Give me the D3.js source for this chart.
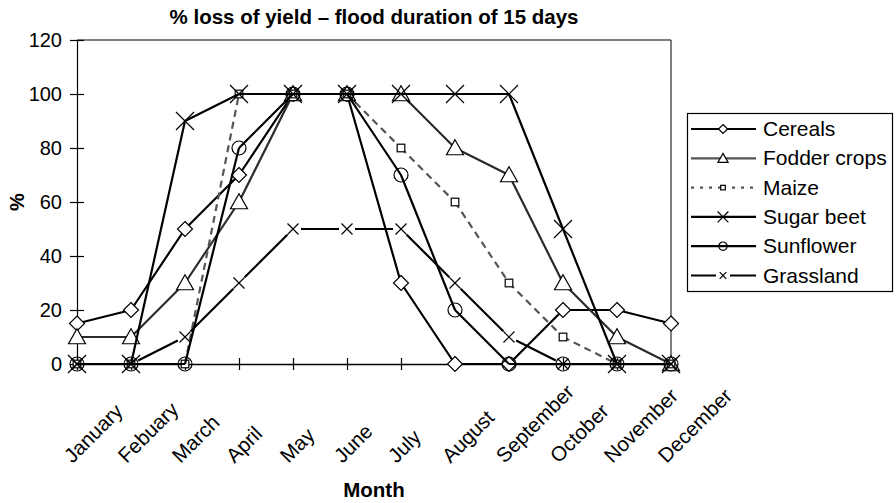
<!DOCTYPE html>
<html>
<head>
<meta charset="utf-8">
<script src="https://cdn.jsdelivr.net/npm/d3@7"></script>
<style>
  html, body { margin: 0; padding: 0; background: #fff; }
  svg { display: block; font-family: "Liberation Sans", Arial, Helvetica, sans-serif; }
</style>
</head>
<body>
<svg id="chart" width="896" height="503"></svg>
<script>
// Months along the x axis (spelling kept as published)
const months = ["January", "Febuary", "March", "April", "May", "June", "July",
                "August", "September", "October", "November", "December"];

// % loss of yield per month, flood duration of 15 days
const cereals    = [15, 20, 50, 70, 100, 100, 30, 0, 0, 20, 20, 15];
const fodder     = [10, 10, 30, 60, 100, 100, 100, 80, 70, 30, 10, 0];
const maize      = [0, 0, 0, 100, 100, 100, 80, 60, 30, 10, 0, 0];
const sugarBeet  = [0, 0, 90, 100, 100, 100, 100, 100, 100, 50, 0, 0];
const sunflower  = [0, 0, 0, 80, 100, 100, 70, 20, 0, 0, 0, 0];
const grassland  = [0, 0, 10, 30, 50, 50, 50, 30, 10, 0, 0, 0];

const seriesNames = ["Cereals", "Fodder crops", "Maize", "Sugar beet", "Sunflower", "Grassland"];
const yTicks = [0, 20, 40, 60, 80, 100, 120];

const series = [
  { name: seriesNames[0], values: cereals,   color: "#000", dash: null,  marker: "diamond",  gap: 0 },
  { name: seriesNames[1], values: fodder,    color: "#2b2b2b", dash: null, marker: "triangle", gap: 0 },
  { name: seriesNames[2], values: maize,     color: "#555", dash: "7,5", marker: "square",   gap: 0 },
  { name: seriesNames[3], values: sugarBeet, color: "#000", dash: null,  marker: "bigx",     gap: 0 },
  { name: seriesNames[4], values: sunflower, color: "#000", dash: null,  marker: "circle",   gap: 0 },
  { name: seriesNames[5], values: grassland, color: "#000", dash: null,  marker: "smallx",   gap: 8 }
];

const svg = d3.select("#chart");
const plotL = 77, plotR = 671, plotT = 40, plotB = 364;

const x = d3.scalePoint().domain(months).range([plotL, plotR]);
const y = d3.scaleLinear().domain([0, 120]).range([plotB, plotT]);

// Title
svg.append("text")
  .attr("x", (plotL + plotR) / 2).attr("y", 24)
  .attr("text-anchor", "middle")
  .attr("font-weight", "bold").attr("font-size", 20.5)
  .text("% loss of yield \u2013 flood duration of 15 days");

// Plot frame (top and right edges)
svg.append("path")
  .attr("d", `M${plotL},${plotT}H${plotR}V${plotB}`)
  .attr("fill", "none").attr("stroke", "#000").attr("stroke-width", 1);

// Y axis with ticks crossing the line
const yAxis = svg.append("g").attr("transform", `translate(${plotL},0)`)
  .call(d3.axisLeft(y).tickValues(yTicks).tickSize(7).tickPadding(8));
yAxis.select(".domain").attr("stroke", "#000").attr("stroke-width", 1.2);
yAxis.selectAll(".tick line").attr("x2", 7).attr("x1", -7).attr("stroke-width", 1.2);
yAxis.selectAll(".tick text")
  .attr("font-size", 20).attr("font-family", "Liberation Sans, Arial, sans-serif").attr("fill", "#000");

// X axis at zero with crossing ticks and slanted month labels
const xAxis = svg.append("g").attr("transform", `translate(0,${plotB})`)
  .call(d3.axisBottom(x).tickSize(6).tickSizeOuter(0));
xAxis.select(".domain").attr("stroke", "#000").attr("stroke-width", 1.5);
xAxis.selectAll(".tick line").attr("y1", -6).attr("y2", 6).attr("stroke-width", 1.2);
xAxis.selectAll(".tick text")
  .attr("font-size", 20.5).attr("font-family", "Liberation Sans, Arial, sans-serif").attr("fill", "#000")
  .attr("text-anchor", "start")
  .attr("dy", 0).attr("y", 0)
  .attr("transform", "translate(-5,100) rotate(-45)");

// Axis titles
svg.append("text")
  .attr("x", (plotL + plotR) / 2).attr("y", 497)
  .attr("text-anchor", "middle").attr("font-weight", "bold").attr("font-size", 20.5)
  .text("Month");
svg.append("text")
  .attr("transform", `translate(24,${(plotT + plotB) / 2}) rotate(-90)`)
  .attr("text-anchor", "middle").attr("font-weight", "bold").attr("font-size", 20)
  .text("%");

// Marker shapes centred on (0,0)
function drawMarker(g, type, s) {
  const k = s || 1;
  if (type === "diamond") {
    const r = 7.5 * k;
    g.append("path").attr("d", `M0,${-r}L${r},0L0,${r}L${-r},0Z`)
      .attr("fill", "#fff").attr("stroke", "#000").attr("stroke-width", 1.2);
  } else if (type === "triangle") {
    const h = 15 * k, w = 8.5 * k;
    g.append("path").attr("d", `M0,${-h * 0.55}L${w},${h * 0.45}L${-w},${h * 0.45}Z`)
      .attr("fill", "#fff").attr("stroke", "#000").attr("stroke-width", 1.2);
  } else if (type === "square") {
    const r = 3.8 * k;
    g.append("rect").attr("x", -r).attr("y", -r).attr("width", 2 * r).attr("height", 2 * r)
      .attr("fill", "#fff").attr("stroke", "#000").attr("stroke-width", 1.2);
  } else if (type === "bigx") {
    const r = 9 * k;
    g.append("path").attr("d", `M${-r},${-r}L${r},${r}M${-r},${r}L${r},${-r}`)
      .attr("stroke", "#000").attr("stroke-width", 1.2);
  } else if (type === "circle") {
    g.append("circle").attr("r", 7 * k)
      .attr("fill", "none").attr("stroke", "#000").attr("stroke-width", 1.2);
  } else if (type === "smallx") {
    const r = 5.5 * k;
    g.append("path").attr("d", `M${-r},${-r}L${r},${r}M${-r},${r}L${r},${-r}`)
      .attr("stroke", "#000").attr("stroke-width", 1.2);
  }
}

// Line segments, optionally stopping short of each marker
function segmentsPath(pts, gap) {
  let d = "";
  for (let i = 0; i < pts.length - 1; i++) {
    const [x0, y0] = pts[i], [x1, y1] = pts[i + 1];
    const len = Math.hypot(x1 - x0, y1 - y0);
    const ux = (x1 - x0) / len, uy = (y1 - y0) / len;
    d += `M${x0 + ux * gap},${y0 + uy * gap}L${x1 - ux * gap},${y1 - uy * gap}`;
  }
  return d;
}

const plot = svg.append("g");
series.forEach(s => {
  const pts = s.values.map((v, i) => [x(months[i]), y(v)]);
  plot.append("path")
    .attr("d", segmentsPath(pts, s.gap))
    .attr("fill", "none").attr("stroke", s.color).attr("stroke-width", 2.2)
    .attr("stroke-dasharray", s.dash);
  pts.forEach(p => {
    const g = plot.append("g").attr("transform", `translate(${p[0]},${p[1]})`);
    drawMarker(g, s.marker, 1);
  });
});

// Legend
const lg = svg.append("g");
lg.append("rect").attr("x", 687.5).attr("y", 113.5).attr("width", 205).attr("height", 178)
  .attr("fill", "#fff").attr("stroke", "#000").attr("stroke-width", 1.2);
series.forEach((s, i) => {
  const cy = 129 + i * 29.3;
  const lx0 = 691, lx1 = 756, mx = 723;
  const gap = s.gap ? 7 : 0;
  lg.append("path")
    .attr("d", `M${lx0},${cy}H${mx - gap}M${mx + gap},${cy}H${lx1}`)
    .attr("stroke", i === 1 ? "#555" : s.color).attr("stroke-width", 2.2)
    .attr("stroke-dasharray", s.dash ? "3,6" : null);
  const g = lg.append("g").attr("transform", `translate(${mx},${cy})`);
  drawMarker(g, s.marker, 0.6);
  lg.append("text").attr("x", 763).attr("y", cy + 7)
    .attr("font-size", 21).text(s.name);
});
</script>
</body>
</html>
